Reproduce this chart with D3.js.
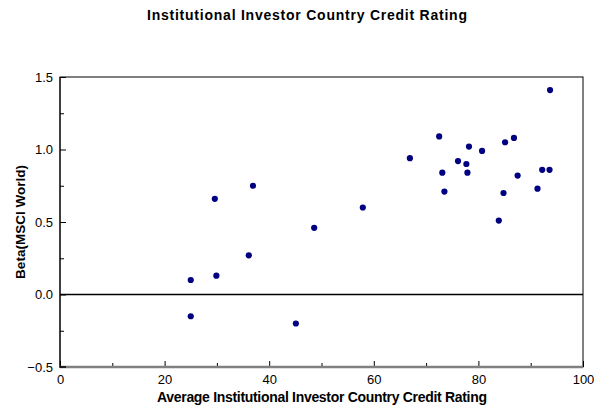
<!DOCTYPE html>
<html><head><meta charset="utf-8">
<script src="https://cdn.jsdelivr.net/npm/d3@7"></script>
<style>body{margin:0;background:#fff}svg{display:block}text{font-family:"Liberation Sans",Arial,sans-serif}</style>
</head><body>
<svg id="c" width="596" height="410"></svg>
<script>
const ratings = [25.0,25.0,29.6,29.9,36.1,36.9,45.1,48.6,57.9,66.9,72.5,73.1,73.5,76.1,77.7,77.9,78.2,80.7,83.9,84.8,85.1,86.8,87.5,91.3,92.2,93.6,93.7];
const betas   = [0.10,-0.15,0.66,0.13,0.27,0.75,-0.20,0.46,0.60,0.94,1.09,0.84,0.71,0.92,0.90,0.84,1.02,0.99,0.51,0.70,1.05,1.08,0.82,0.73,0.86,0.86,1.41];
const xTicks = [0,20,40,60,80,100];
const xMinor = [10,30,50,70,90];
const yTicks = [-0.5,0,0.5,1.0,1.5];
const yMinor = [-0.25,0.25,0.75,1.25];
const title = "Institutional Investor Country Credit Rating";
const xTitle = "Average Institutional Investor Country Credit Rating";
const yTitle = "Beta(MSCI World)";

const L=60,R=583,T=77,B=367;
const svg=d3.select("#c");
const x=d3.scaleLinear().domain([0,100]).range([L,R]);
const y=d3.scaleLinear().domain([-0.5,1.5]).range([B,T]);

svg.append("rect").attr("x",L).attr("y",T).attr("width",R-L).attr("height",B-T)
  .attr("fill","none").attr("stroke","#000").attr("stroke-width",1);
svg.append("line").attr("x1",L).attr("x2",R).attr("y1",y(0)).attr("y2",y(0)).attr("stroke","#000").attr("stroke-width",1.3);

const gx=svg.append("g").attr("transform",`translate(0,${B})`)
  .call(d3.axisBottom(x).tickValues(xTicks).tickSize(-6).tickPadding(8).tickFormat(d3.format("d")));
const gxm=svg.append("g").attr("transform",`translate(0,${B})`)
  .call(d3.axisBottom(x).tickValues(xMinor).tickSize(-4).tickFormat(""));
const gy=svg.append("g").attr("transform",`translate(${L},0)`)
  .call(d3.axisLeft(y).tickValues(yTicks).tickSize(-6).tickPadding(7).tickFormat(d3.format(".1f")));
const gym=svg.append("g").attr("transform",`translate(${L},0)`)
  .call(d3.axisLeft(y).tickValues(yMinor).tickSize(-4).tickFormat(""));
[gx,gxm,gy,gym].forEach(g=>{g.select(".domain").remove();g.selectAll("line").attr("stroke","#000");
  g.selectAll("text").attr("font-size",13).attr("fill","#000").attr("font-family","'Liberation Sans', Arial, sans-serif");});
svg.append("line").attr("x1",L).attr("x2",R).attr("y1",B).attr("y2",B).attr("stroke","#808080").attr("stroke-width",2.5);
svg.append("line").attr("x1",L).attr("x2",L).attr("y1",T).attr("y2",B+1).attr("stroke","#000").attr("stroke-width",1);
svg.append("line").attr("x1",L).attr("x2",L+6).attr("y1",B).attr("y2",B).attr("stroke","#000").attr("stroke-width",1.5);

svg.append("g").selectAll("circle").data(ratings.map((r,i)=>[r,betas[i]])).join("circle")
  .attr("cx",d=>x(d[0])).attr("cy",d=>y(d[1])).attr("r",3.1).attr("fill","#000080");

svg.append("text").attr("x",307).attr("y",19.5).attr("text-anchor","middle").attr("font-size",14).attr("font-weight","bold")
  .attr("textLength",320).attr("lengthAdjust","spacing").text(title);
svg.append("text").attr("x",322).attr("y",402).attr("text-anchor","middle").attr("font-size",14).attr("font-weight","bold")
  .attr("textLength",330).attr("lengthAdjust","spacing").text(xTitle);
svg.append("text").attr("transform",`translate(24.5,${(T+B)/2}) rotate(-90)`).attr("text-anchor","middle").attr("font-size",13.5).attr("font-weight","bold").text(yTitle);
</script>
</body></html>
